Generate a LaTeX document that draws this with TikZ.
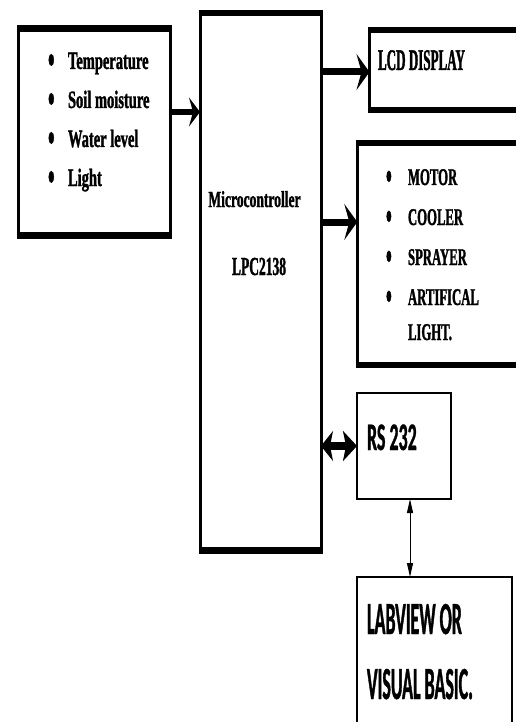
\documentclass[tikz,border=0pt]{standalone}
\usepackage{fontspec}
\setmainfont{Liberation Serif}
\newfontfamily\fSens{Liberation Serif Bold}[FakeStretch=0.58,FakeBold=1.2]
\newfontfamily\fMicro{Liberation Serif Bold}[FakeStretch=0.59,FakeBold=1.2]
\newfontfamily\fLpc{Liberation Serif Bold}[FakeStretch=0.52,FakeBold=1.2]
\newfontfamily\fLcd{Liberation Serif Bold}[FakeStretch=0.435,FakeBold=1.2]
\newfontfamily\fAct{Liberation Serif Bold}[FakeStretch=0.53,FakeBold=1.2]
\newfontfamily\fRs{Carlito Bold}[FakeStretch=0.46,FakeBold=0.8]
\newfontfamily\fLab{Carlito Bold}[FakeStretch=0.39,FakeBold=0.8]
\newcommand\mybul{\raisebox{-0.2em}{\scalebox{1.3}[1.7]{\textbullet}}}
\usetikzlibrary{arrows.meta}
\begin{document}
\begin{tikzpicture}[x=1pt,y=-1pt,
  fatbox/.style={draw, line width=3pt, inner sep=0pt, outer sep=0pt, anchor=north west},
  thinbox/.style={draw, line width=1.5pt, inner sep=0pt, outer sep=0pt, anchor=north west},
  txt/.style={anchor=base west, inner sep=0pt, outer sep=0pt},
  ctxt/.style={anchor=base, inner sep=0pt, outer sep=0pt},
  sensfont/.style={font=\fSens\fontsize{25}{29}\selectfont},
  actfont/.style={font=\fAct\fontsize{24}{28}\selectfont},
  labfont/.style={font=\fLab\fontsize{46}{50}\selectfont},
  arrS/.style={line width=6pt, -{Stealth[length=11pt,width=29pt,inset=4pt]}},
  arrB/.style={line width=7pt, -{Stealth[length=13pt,width=36pt,inset=5pt]}},
  arrD/.style={line width=8pt, {Stealth[length=12pt,width=30pt,inset=3pt]}-{Stealth[length=14pt,width=30pt,inset=3pt]}},
  arrT/.style={line width=1pt, {Triangle[length=14pt,width=6pt]}-{Triangle[length=14pt,width=6pt]}}
]
\fill[white] (0,0) rectangle (516,722);
\useasboundingbox (0,0) rectangle (516,722);

% boxes
\node[fatbox, minimum width=151.5pt, minimum height=207pt] (sens) at (18.5,28.5) {};
\node[fatbox, minimum width=121pt, minimum height=537.5pt] (micro) at (200,13) {};
\node[fatbox, minimum width=170pt, minimum height=80pt] (lcd) at (369.5,30) {};
\node[fatbox, minimum width=183pt, minimum height=222pt] (act) at (357.3,143) {};
\node[thinbox, minimum width=94pt, minimum height=106pt] (rs) at (357,393) {};
\node[thinbox, minimum width=155pt, minimum height=200pt] (lab) at (357,577) {};

% thick top and bottom edges
\foreach \n in {sens,micro,lcd,act}{
  \draw[line width=6.5pt] ([xshift=-1.5pt]\n.north west) -- ([xshift=1.5pt]\n.north east);
  \draw[line width=6.5pt] ([xshift=-1.5pt]\n.south west) -- ([xshift=1.5pt]\n.south east);
}

% sensor texts
\node[txt, sensfont] (t1) at (48,69) {\makebox[20pt][l]{\mybul}Temperature};
\node[txt, sensfont] (t2) at (48,108) {\makebox[20pt][l]{\mybul}Soil moisture};
\node[txt, sensfont] (t3) at (48,147) {\makebox[20pt][l]{\mybul}Water level};
\node[txt, sensfont] (t4) at (48,186) {\makebox[20pt][l]{\mybul}Light};

% microcontroller texts
\node[ctxt, font=\fMicro\fontsize{23}{27}\selectfont] (m1) at (254.5,207) {Microcontroller};
\node[ctxt, font=\fLpc\fontsize{26}{30}\selectfont] (m2) at (259,275) {LPC2138};

% LCD
\node[txt, font=\fLcd\fontsize{30}{34}\selectfont] (l1) at (378,70) {LCD DISPLAY};

% actuators
\node[txt, actfont] (a1) at (386,185) {\makebox[22pt][l]{\mybul}MOTOR};
\node[txt, actfont] (a2) at (386,225) {\makebox[22pt][l]{\mybul}COOLER};
\node[txt, actfont] (a3) at (386,265) {\makebox[22pt][l]{\mybul}SPRAYER};
\node[txt, actfont] (a4) at (386,305) {\makebox[22pt][l]{\mybul}ARTIFICAL};
\node[txt, actfont] (a5) at (408,340) {LIGHT.};

% RS232 and LabVIEW
\node[txt, font=\fRs\fontsize{39}{43}\selectfont] (r1) at (367,450) {RS 232};
\node[txt, labfont] (b1) at (367,634) {LABVIEW OR};
\node[txt, labfont] (b2) at (367,699) {VISUAL BASIC.};

% connectors
\draw[arrS] ([yshift=20pt]sens.east) -- ([yshift=20pt]sens.east -| micro.west);
\draw[arrB] ([yshift=-2pt]lcd.west -| micro.east) -- ([yshift=-2pt]lcd.west);
\draw[arrB] ([yshift=32pt]act.west -| micro.east) -- ([yshift=32pt]act.west);
\draw[arrD] (rs.west -| micro.east) -- (rs.west);
\draw[arrT] ([xshift=6pt]rs.south) -- ([xshift=6pt]rs.south |- lab.north);
\end{tikzpicture}
\end{document}
